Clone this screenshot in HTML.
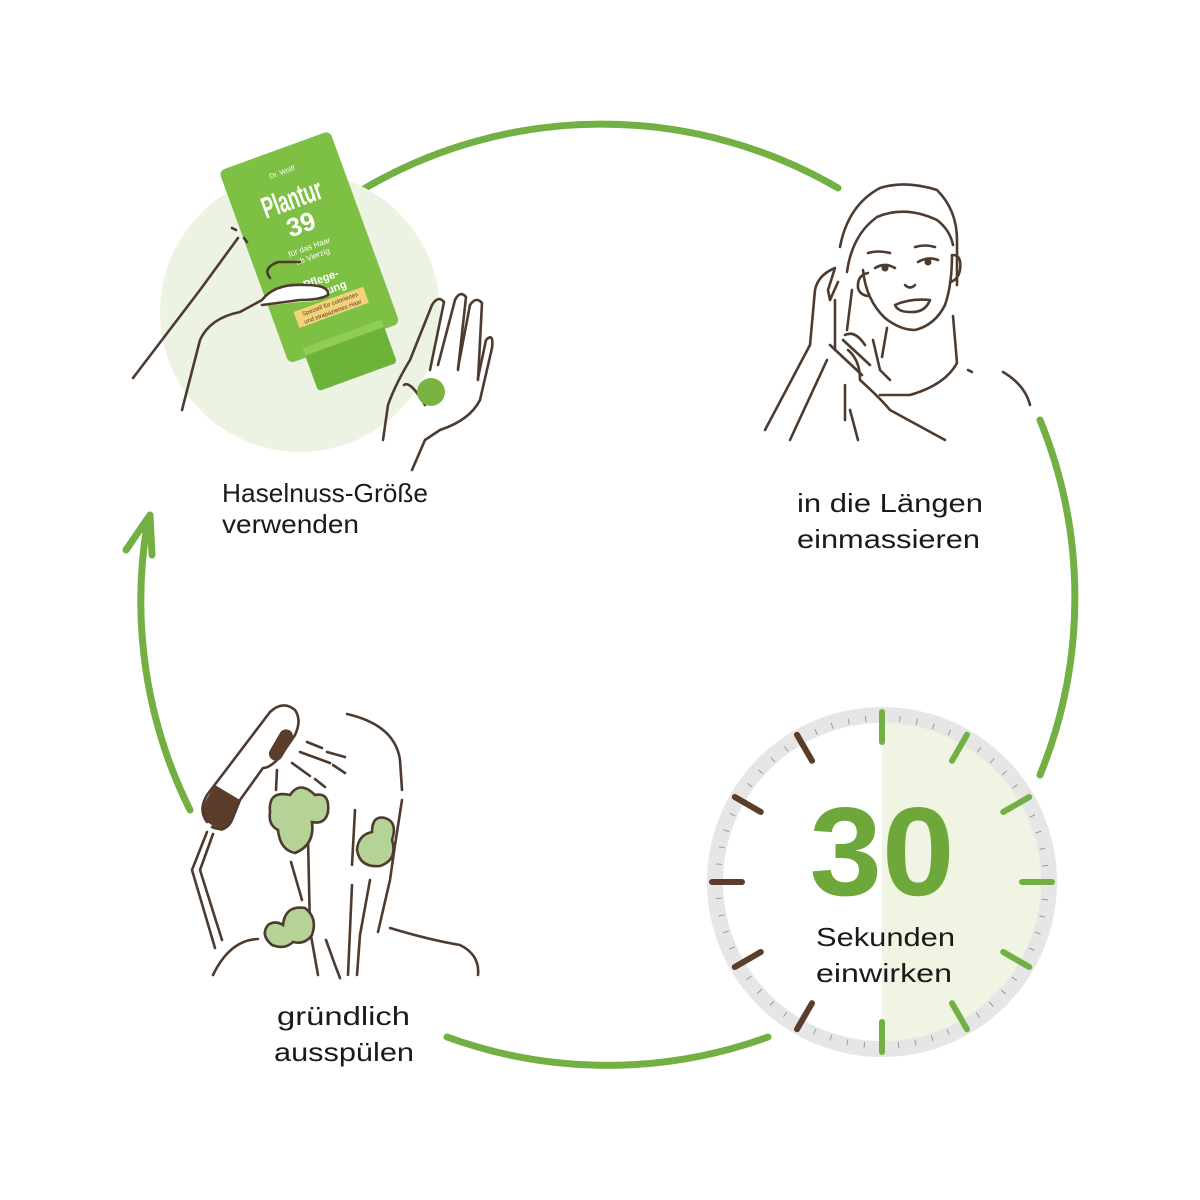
<!DOCTYPE html>
<html><head><meta charset="utf-8"><style>
html,body{margin:0;padding:0;background:#fff}
svg{display:block}
.t{font-family:"Liberation Sans",sans-serif;font-size:26px;fill:#1a1a1a}
.b{fill:none;stroke:#4e3b2f;stroke-width:2.6;stroke-linecap:round;stroke-linejoin:round}
</style></head><body>
<svg width="1200" height="1200" viewBox="0 0 1200 1200" xmlns="http://www.w3.org/2000/svg">
<g fill="none" stroke="#72b043" stroke-width="7" stroke-linecap="round">
<path d="M362,190 A469,469 0 0 1 838,188"/>
<path d="M1040,420 A469,469 0 0 1 1040,775"/>
<path d="M768,1037 A469,469 0 0 1 447,1037"/>
<path d="M190,810 A469,469 0 0 1 147,525"/>
<path d="M126,550 L150,515 L152,555" stroke-linejoin="round"/>
</g>

<circle cx="300" cy="312" r="140" fill="#edf3e2"/>
<g transform="translate(8 8) rotate(-20 310 260)">
<rect x="250" y="135" width="118" height="205" rx="6" fill="#7dc043"/>
<rect x="268" y="330" width="84" height="46" rx="4" fill="#6db33a"/>
<rect x="268" y="330" width="84" height="8" fill="#8fcc58"/>
<text x="309" y="160" font-family="Liberation Sans" font-size="7" fill="#fff" text-anchor="middle">Dr. Wolff</text>
<text x="309" y="196" font-family="Liberation Sans" font-size="30" font-weight="bold" fill="#fff" text-anchor="middle" textLength="62" lengthAdjust="spacingAndGlyphs">Plantur</text>
<text x="309" y="222" font-family="Liberation Sans" font-size="26" font-weight="bold" fill="#fff" text-anchor="middle">39</text>
<text x="309" y="240" font-family="Liberation Sans" font-size="8" fill="#fff" text-anchor="middle">für das Haar</text>
<text x="309" y="250" font-family="Liberation Sans" font-size="8" fill="#fff" text-anchor="middle">ab Vierzig</text>
<text x="309" y="275" font-family="Liberation Sans" font-size="11" font-weight="bold" fill="#fff" text-anchor="middle">Pflege-</text>
<text x="309" y="288" font-family="Liberation Sans" font-size="11" font-weight="bold" fill="#fff" text-anchor="middle">Spülung</text>
<rect x="272" y="293" width="74" height="17" fill="#f3d27a"/>
<text x="309" y="300" font-family="Liberation Sans" font-size="6" fill="#5a3e2b" text-anchor="middle">Speziell für coloriertes</text>
<text x="309" y="308" font-family="Liberation Sans" font-size="6" fill="#5a3e2b" text-anchor="middle">und strapaziertes Haar</text>
</g>
<path class="b" d="M133,378 L200,290 L238,238 M232,228 L236,230 M244,238 L247,242"/>
<path d="M262,300 Q275,283 305,285 Q330,285 328,295 Q320,302 300,302 L262,306 Z" fill="#fff"/>
<path class="b" d="M182,410 L200,340 Q210,318 240,312 L262,300 M262,300 Q275,283 305,285 Q330,285 328,295 Q320,300 300,300 L262,305"/>
<path class="b" d="M270,278 Q262,268 278,262 L300,262"/>
<path class="b" d="M383,440 L388,405 Q395,385 410,360 L432,305 Q438,295 444,302 L430,370"/>
<path class="b" d="M438,365 L455,300 Q460,290 466,297 L458,370"/>
<path class="b" d="M458,368 L470,305 Q476,296 482,303 L478,380"/>
<path class="b" d="M478,378 L486,340 Q494,332 492,348 L480,400 Q470,420 440,430 L425,440 L412,470"/>
<path class="b" d="M404,385 Q410,380 425,405"/>
<circle cx="431" cy="392" r="14" fill="#7ab342"/>
<text class="t" x="222" y="502" textLength="206" lengthAdjust="spacingAndGlyphs">Haselnuss-Größe</text>
<text class="t" x="222" y="533" textLength="137" lengthAdjust="spacingAndGlyphs">verwenden</text>

<path class="b" d="M840,247 Q848,205 880,188 Q905,180 937,190 Q957,210 957,240 L957,285"/>
<path class="b" d="M847,272 Q852,235 877,217 Q905,205 937,220 Q950,230 953,245"/>
<path class="b" d="M863,270 Q866,300 885,318 Q900,330 915,330 Q935,325 945,305 Q952,285 952,255"/>
<path class="b" d="M953,255 Q962,255 960,270 Q958,280 950,282"/>
<path class="b" d="M868,273 Q857,275 858,288 Q860,295 868,296"/>
<path class="b" d="M868,253 Q878,250 890,253 M915,247 Q925,244 935,247"/>
<circle cx="885" cy="268" r="3.5" fill="#4e3b2f"/><circle cx="928" cy="262" r="3.5" fill="#4e3b2f"/>
<path class="b" d="M875,268 Q885,262 895,268 M918,262 Q928,256 938,260"/>
<path class="b" d="M905,285 Q910,290 915,285"/>
<path class="b" d="M895,305 Q910,298 930,300 Q925,313 910,312 Q898,312 895,305"/>
<path class="b" d="M887,328 L882,357 M953,316 L957,363 Q945,385 910,395 L880,395"/>
<path class="b" d="M1003,372 Q1025,385 1030,405"/>
<path class="b" d="M968,370 L972,372"/>
<path class="b" d="M765,430 L810,345 L815,290 Q818,275 835,268 L828,290 L830,300 M830,300 L838,282"/>
<path class="b" d="M835,300 L835,350 M827,360 L790,440 M852,290 L847,330"/>
<path class="b" d="M848,350 Q860,360 860,380 Q880,398 890,410 L945,440"/>
<path class="b" d="M843,340 L870,365 M830,345 L862,375 M845,335 Q855,330 865,345 M873,340 L880,370 L890,380"/>
<path class="b" d="M850,410 L858,440 M845,385 L845,420"/>
<text class="t" x="797" y="512" textLength="186" lengthAdjust="spacingAndGlyphs">in die Längen</text>
<text class="t" x="797" y="548" textLength="183" lengthAdjust="spacingAndGlyphs">einmassieren</text>

<circle cx="882" cy="882" r="167" fill="#fff" stroke="#e6e6e6" stroke-width="16"/>
<path d="M882,723 A159,159 0 0 1 882,1041 Z" fill="#eff4e3"/>
<circle cx="882" cy="882" r="164" fill="none" stroke="#9a9a9a" stroke-width="6" stroke-dasharray="1 16.173"/>
<g stroke-width="6" stroke-linecap="round">
<g stroke="#72b043">
<line x1="882" y1="742" x2="882" y2="712"/><line x1="952" y1="760.8" x2="967" y2="734.8"/>
<line x1="1003.2" y1="812" x2="1029.2" y2="797"/><line x1="1022" y1="882" x2="1052" y2="882"/>
<line x1="1003.2" y1="952" x2="1029.2" y2="967"/><line x1="952" y1="1003.2" x2="967" y2="1029.2"/>
<line x1="882" y1="1022" x2="882" y2="1052"/>
</g>
<g stroke="#5a3e2b">
<line x1="812" y1="1003.2" x2="797" y2="1029.2"/><line x1="760.8" y1="952" x2="734.8" y2="967"/>
<line x1="742" y1="882" x2="712" y2="882"/><line x1="760.8" y1="812" x2="734.8" y2="797"/>
<line x1="812" y1="760.8" x2="797" y2="734.8"/>
</g>
</g>
<text x="882" y="895" font-family="Liberation Sans" font-size="126" font-weight="bold" fill="#6fa83a" text-anchor="middle" textLength="145" lengthAdjust="spacingAndGlyphs">30</text>
<text class="t" x="816" y="946" textLength="139" lengthAdjust="spacingAndGlyphs">Sekunden</text>
<text class="t" x="816" y="982" textLength="136" lengthAdjust="spacingAndGlyphs">einwirken</text>

<path d="M221,831 L207,822 Q200,812 206,800 L215,785 L240,800 L232,820 Q228,830 221,831 Z" fill="#5a3e2b"/>
<path class="b" d="M207,822 Q198,810 207,795 L270,712 Q283,700 295,710 Q302,720 295,735 L280,757 Q270,768 263,768 L240,800 L232,820 Q226,833 212,827"/>
<rect x="274" y="728" width="14" height="34" rx="7" fill="#5a3e2b" transform="rotate(30 281 745)"/>
<path class="b" d="M207,832 L192,870 L215,948 M213,834 L200,870 L222,940"/>
<path class="b" d="M307,742 L322,748 M327,752 L345,757 M300,752 L330,763 M333,765 L345,773 M292,763 L310,776 M315,779 L325,787"/>
<path class="b" d="M347,714 Q395,725 400,760 L402,790 M402,800 L395,845 L390,880 L378,932"/>
<path class="b" d="M277,770 L276,790 M291,862 L302,900 M308,838 L310,930 L318,975 M355,810 L352,865 M352,885 L350,930 L348,975 M370,880 L360,935 L357,975 M326,940 L335,965 L340,978"/>
<path class="b" d="M258,939 Q230,940 213,975 M390,928 Q430,940 460,945 Q480,955 478,975"/>
<path d="M270,812 Q268,790 290,795 Q300,780 315,795 Q330,792 328,812 Q325,825 312,822 Q315,845 295,853 Q280,850 278,830 Q268,825 270,812 Z" fill="#b5d396" stroke="#4e3b2f" stroke-width="2.6"/>
<path d="M372,832 Q372,815 385,818 Q398,822 392,840 Q398,860 380,866 Q360,868 357,850 Q358,835 372,832 Z" fill="#b5d396" stroke="#4e3b2f" stroke-width="2.6"/>
<path d="M283,925 Q285,905 305,908 Q318,918 312,935 Q305,945 293,942 Q285,950 272,945 Q260,935 268,925 Q275,920 283,925 Z" fill="#b5d396" stroke="#4e3b2f" stroke-width="2.6"/>
<text class="t" x="277" y="1025" textLength="133" lengthAdjust="spacingAndGlyphs">gründlich</text>
<text class="t" x="274" y="1061" textLength="140" lengthAdjust="spacingAndGlyphs">ausspülen</text>
</svg>
</body></html>
